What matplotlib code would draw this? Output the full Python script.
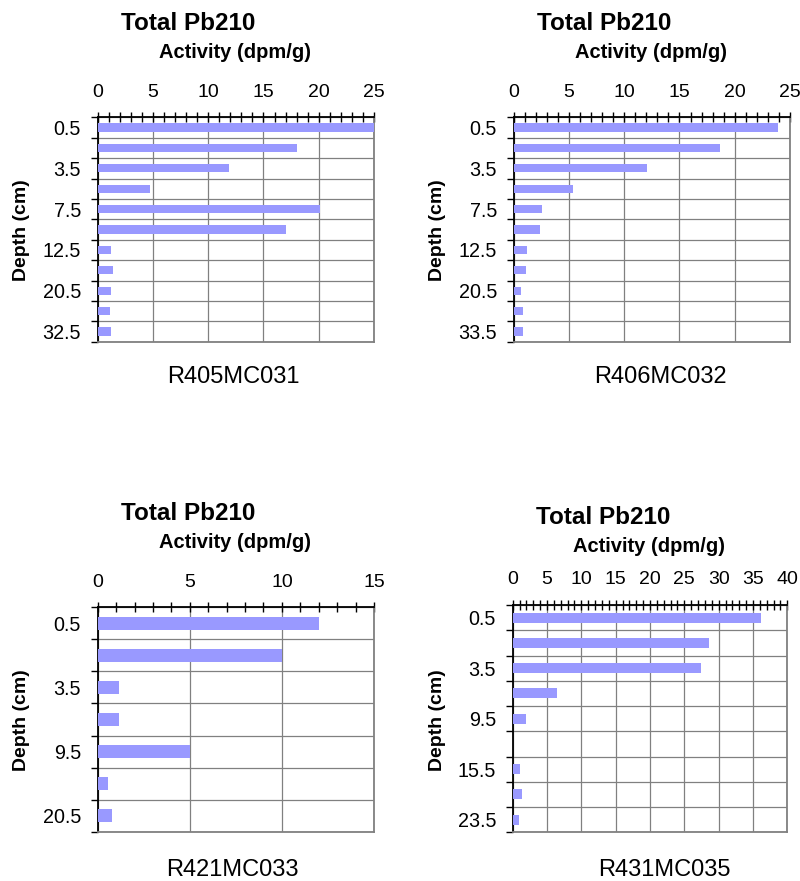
import numpy as np
import matplotlib
matplotlib.use('Agg')
import matplotlib.pyplot as plt

plt.rcParams['font.family'] = ['Liberation Sans', 'DejaVu Sans']

W, H = 800, 881

# depth labels (only every second category is labelled in the original)
depth1 = ['0.5', '', '3.5', '', '7.5', '', '12.5', '', '20.5', '', '32.5']
act1 = [25.0, 18.0, 11.9, 4.7, 20.1, 17.0, 1.2, 1.4, 1.2, 1.1, 1.2]

depth2 = ['0.5', '', '3.5', '', '7.5', '', '12.5', '', '20.5', '', '33.5']
act2 = [23.9, 18.7, 12.1, 5.4, 2.6, 2.35, 1.2, 1.1, 0.65, 0.8, 0.8]

depth3 = ['0.5', '', '3.5', '', '9.5', '', '20.5']
act3 = [12.0, 10.0, 1.15, 1.15, 5.0, 0.55, 0.8]

depth4 = ['0.5', '', '3.5', '', '9.5', '', '15.5', '', '23.5']
act4 = [36.2, 28.6, 27.4, 6.4, 1.9, 0.0, 1.0, 1.3, 0.9]

names = ['R405MC031', 'R406MC032', 'R421MC033', 'R431MC035']
xmaxes = [25, 25, 15, 40]

fig = plt.figure(figsize=(W / 100, H / 100), dpi=100)


def px_axes(l, r, t, b):
    return fig.add_axes([l / W, 1 - b / H, (r - l) / W, (b - t) / H])


def ftext(x, y, s, **kw):
    fig.text(x / W, 1 - y / H, s, ha='center', va='center', **kw)


def panel(ax, labels, vals, xmax):
    n = len(vals)
    y = np.arange(n)
    ax.barh(y, vals, height=0.4, color='#9999ff', zorder=3)
    ax.set_xlim(0, xmax)
    ax.set_ylim(n - 0.5, -0.5)
    ax.xaxis.tick_top()
    ax.set_xticks(np.arange(0, xmax + 1, 5))
    ax.set_xticks(np.arange(0, xmax + 1, 1), minor=True)
    ax.tick_params(axis='x', which='both', direction='inout', length=7,
                   width=1, color='black', labelsize=14, pad=8.5)
    ax.set_yticks(np.arange(-0.5, n, 1))
    ax.set_yticks(y, minor=True)
    ax.set_yticklabels(labels, minor=True)
    ax.tick_params(axis='y', which='major', direction='out', length=5,
                   width=1, labelleft=False)
    ax.tick_params(axis='y', which='minor', length=0, pad=12, labelsize=14.2)
    ax.grid(axis='both', which='major', color='#808080', lw=0.9, zorder=1)
    for s in ['left', 'top']:
        ax.spines[s].set_color('black')
        ax.spines[s].set_linewidth(1.3)
    for s in ['right', 'bottom']:
        ax.spines[s].set_color('#808080')
        ax.spines[s].set_linewidth(1.3)


boxes = [(97.7, 374, 117.3, 341.7), (513.7, 790, 117.3, 341.7),
         (97.7, 374, 607.3, 831.7), (512.7, 787.3, 605, 832.3)]
data = [(depth1, act1), (depth2, act2), (depth3, act3), (depth4, act4)]

title_pos = [(188, 24), (604, 24), (188, 514), (603, 517)]
act_pos = [(235, 53), (651, 53), (235, 543), (649, 546)]
name_pos = [(233, 377), (660, 377), (232, 870), (664, 870)]
depth_pos = [(22, 230), (437, 230), (22, 720), (437, 720)]

for i in range(4):
    ax = px_axes(*boxes[i])
    panel(ax, data[i][0], data[i][1], xmaxes[i])
    ftext(*title_pos[i], 'Total Pb210', fontsize=17.5, fontweight='bold')
    ftext(*act_pos[i], 'Activity (dpm/g)', fontsize=14.5, fontweight='bold')
    ftext(*name_pos[i], names[i], fontsize=17)
    ftext(*depth_pos[i], 'Depth (cm)', fontsize=14, fontweight='bold',
          rotation=90)

fig.savefig('out.png', dpi=100)
